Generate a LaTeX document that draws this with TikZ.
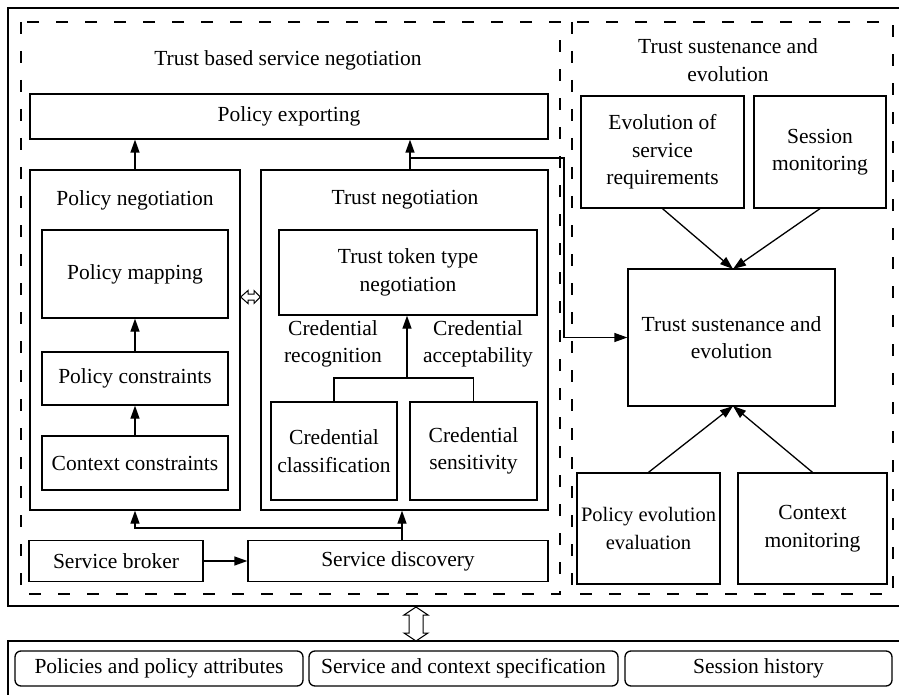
\documentclass[tikz,border=0pt]{standalone}
\usepackage{fontspec}
\setmainfont{Liberation Serif}
\usetikzlibrary{arrows.meta}
\begin{document}
\begin{tikzpicture}[x=1pt,y=-1pt,
  line width=1.3pt,
  font=\fontsize{21.5}{27.5}\selectfont,
  box/.style={draw,rectangle,inner sep=2pt,align=center},
  rbox/.style={draw,rectangle,rounded corners=6pt,inner sep=2pt,align=center},
  frame/.style={draw,dash pattern=on 12pt off 17pt},
  arr/.style={-{Triangle[length=13pt,width=9pt]}},
  title/.style={align=center,inner sep=0pt}]
\useasboundingbox (0,0) rectangle (899,695);
\clip (0,0) rectangle (899,695);

% outer solid frames
\draw (8,8) rectangle (905,606);
\draw (8,641) rectangle (905,710);

% dashed groups
\draw[frame] (21,22) rectangle (560,594);
\draw[frame] (572,22) rectangle (893,594);
\node[title] (t1) at (288,60) {Trust based service negotiation};
\node[title] (t2) at (728,60) {Trust sustenance and\\evolution};

% left group
\node[box,minimum width=518,minimum height=45] (pexp) at (289,116.5) {Policy exporting};
\node[box,minimum width=210,minimum height=340] (pneg) at (135,340) {};
\node[box,minimum width=287,minimum height=340] (tneg) at (404.5,340) {};
\node[title] (pnegt) at (135,200) {Policy negotiation};
\node[title] (tnegt) at (405,200) {Trust negotiation};

\node[box,minimum width=186,minimum height=88] (pmap) at (135,274) {Policy mapping};
\node[box,minimum width=186,minimum height=53] (pcon) at (135,378.5) {Policy constraints};
\node[box,minimum width=186,minimum height=54] (ccon) at (135,463) {Context constraints};

\node[box,minimum width=258,minimum height=85] (ttok) at (408,272.5) {Trust token type\\negotiation};
\node[title] (crec) at (333,344) {Credential\\recognition};
\node[title] (cacc) at (478,344) {Credential\\acceptability};
\node[box,minimum width=126,minimum height=98] (ccls) at (334,451) {Credential\\classification};
\node[box,minimum width=127,minimum height=98] (csen) at (473.5,451) {Credential\\sensitivity};

\node[box,minimum width=174,minimum height=41] (sbro) at (116,561) {Service broker};
\node[box,minimum width=300,minimum height=41] (sdis) at (398,561) {Service discovery};

% right group
\node[box,minimum width=163,minimum height=112] (evo) at (662.5,152) {Evolution of\\service\\requirements};
\node[box,minimum width=132,minimum height=112] (smon) at (820,152) {Session\\monitoring};
\node[box,minimum width=207,minimum height=137] (tse) at (731.5,337.5) {Trust sustenance and\\evolution};
\node[box,minimum width=143,minimum height=111,inner sep=0pt,font=\fontsize{20.5}{27.5}\selectfont] (pee) at (648.5,528.5) {Policy evolution\\evaluation};
\node[box,minimum width=149,minimum height=111] (cmon) at (812.5,528.5) {Context\\monitoring};

% repositories
\node[rbox,minimum width=288,minimum height=35] (pol) at (159,668.5) {Policies and policy attributes};
\node[rbox,minimum width=309,minimum height=35] (svc) at (463.5,668.5) {Service and context specification};
\node[rbox,minimum width=267,minimum height=35] (ses) at (758.5,668.5) {Session history};

% connectors
\coordinate (tx) at (410,158);
\coordinate (bend) at (564,158);
\draw[arr] (pneg.north) -- (pneg.north |- pexp.south);
\draw[arr] (tneg.north -| tx) -- (pexp.south -| tx);
\draw[arr] (tx) -- (bend) -- (bend |- tse.west) -- (tse.west);

\draw[arr] (ccon.north) -- (pcon.south);
\draw[arr] (pcon.north) -- (pmap.south);

\coordinate (tj) at (407,378);
\draw (ccls.north) -- (ccls.north |- tj) -- (csen.north |- tj) -- (csen.north);
\draw[arr] (tj) -- (tj |- ttok.south);

\coordinate (sj) at (402,528);
\draw[arr] (sdis.north -| sj) -- (tneg.south -| sj);
\draw[arr] (sj) -- (sj -| pneg.south) -- (pneg.south);
\draw[arr] (sbro.east) -- (sdis.west);

\coordinate (tin) at (733,269);
\coordinate (bin) at (733,406);
\draw[arr] (evo.south) -- (tin);
\draw[arr] (smon.south) -- (tin);
\draw[arr] (pee.north) -- (bin);
\draw[arr] (cmon.north) -- (bin);

% hollow two-way arrows
\draw[line width=1pt,line join=miter]
  (pneg.east |- 0,297) -- (248,290.5) -- (248,294) -- (254,294) -- (254,290.5)
  -- (tneg.west |- 0,297) -- (254,303.5) -- (254,300) -- (248,300) -- (248,303.5) -- cycle;
\draw[line width=1pt,line join=miter]
  (416,607) -- (428,615) -- (423,615) -- (423,633) -- (428,633) -- (416,641)
  -- (404,633) -- (409,633) -- (409,615) -- (404,615) -- cycle;
\end{tikzpicture}
\end{document}
